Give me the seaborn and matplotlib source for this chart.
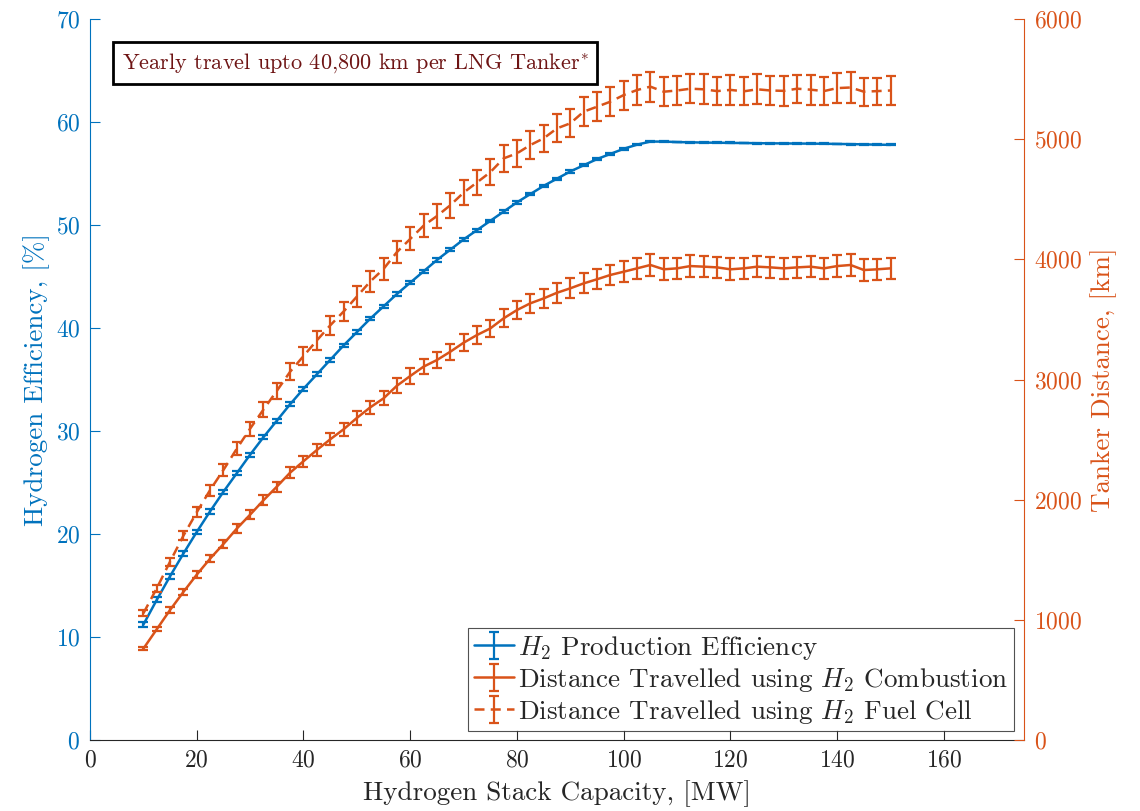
import numpy as np
import pandas as pd
import matplotlib
matplotlib.use('Agg')
import matplotlib.pyplot as plt
from matplotlib.container import ErrorbarContainer
import seaborn as sns

# Stack capacity [MW]
capacity = [10, 12.5, 15, 17.5, 20, 22.5, 25, 27.5, 30, 32.5, 35, 37.5, 40, 42.5, 45,
            47.5, 50, 52.5, 55, 57.5, 60, 62.5, 65, 67.5, 70, 72.5, 75, 77.5, 80, 82.5,
            85, 87.5, 90, 92.5, 95, 97.5, 100, 102.5, 105, 107.5, 110, 112.5, 115, 117.5,
            120, 122.5, 125, 127.5, 130, 132.5, 135, 137.5, 140, 142.5, 145, 147.5, 150]

# H2 production efficiency [%]
efficiency = [11.2, 13.6, 15.9, 18.1, 20.2, 22.2, 24.1, 25.9, 27.7, 29.4, 31.0, 32.6, 34.1,
              35.5, 36.9, 38.3, 39.6, 40.9, 42.1, 43.3, 44.4, 45.5, 46.6, 47.6, 48.6, 49.5,
              50.4, 51.3, 52.2, 53.0, 53.8, 54.5, 55.2, 55.8, 56.4, 56.9, 57.4, 57.8, 58.1,
              58.1, 58.05, 58.03, 58.0, 57.99, 57.97, 57.96, 57.94, 57.93, 57.92, 57.91,
              57.9, 57.89, 57.87, 57.85, 57.83, 57.8, 57.78]
efficiency_err = [0.25, 0.25, 0.24, 0.24, 0.23, 0.23, 0.22, 0.22, 0.21, 0.21, 0.2, 0.2, 0.19,
                  0.19, 0.18, 0.18, 0.17, 0.17, 0.16, 0.16, 0.15, 0.15, 0.15, 0.14, 0.14,
                  0.14, 0.13, 0.13, 0.13, 0.12, 0.12, 0.11, 0.11, 0.1, 0.1, 0.09, 0.08, 0.07,
                  0.05, 0.04, 0.04, 0.04, 0.04, 0.04, 0.04, 0.04, 0.04, 0.04, 0.04, 0.04,
                  0.04, 0.04, 0.04, 0.04, 0.04, 0.04, 0.04]

# Distance travelled using H2 combustion [km]
combustion = [760, 921, 1082, 1232, 1376, 1509, 1631, 1759, 1875, 1995, 2108, 2225, 2320,
              2413, 2502, 2585, 2680, 2768, 2843, 2948, 3029, 3107, 3162, 3231, 3306, 3370,
              3425, 3509, 3578, 3634, 3675, 3722, 3759, 3800, 3834, 3870, 3897, 3925, 3953,
              3917, 3925, 3944, 3939, 3933, 3917, 3925, 3939, 3933, 3925, 3933, 3939, 3925,
              3944, 3953, 3911, 3917, 3925]
combustion_err = [15, 18, 21, 24, 27, 30, 32, 35, 38, 40, 42, 45, 47, 49, 51, 53, 55, 57,
                  59, 61, 63, 65, 67, 68, 70, 72, 74, 76, 78, 80, 81, 82, 83, 84, 85, 86,
                  87, 88, 90, 90, 90, 88, 90, 88, 90, 86, 90, 88, 90, 88, 90, 86, 90, 92,
                  88, 86, 88]

# Distance travelled using H2 fuel cell [km]
fuel_cell = [1054, 1262, 1484, 1700, 1895, 2080, 2247, 2424, 2591, 2750, 2905, 3065, 3195,
             3325, 3450, 3565, 3690, 3815, 3920, 4060, 4170, 4280, 4360, 4450, 4555, 4640,
             4725, 4840, 4882, 4951, 5007, 5090, 5132, 5229, 5270, 5312, 5367, 5409, 5437,
             5395, 5405, 5420, 5415, 5400, 5410, 5398, 5415, 5405, 5402, 5420, 5412, 5400,
             5425, 5430, 5395, 5400, 5405]
fuel_cell_err = [25, 30, 34, 38, 42, 46, 50, 54, 58, 62, 66, 70, 73, 76, 79, 82, 85, 88,
                 90, 93, 95, 98, 100, 102, 104, 106, 108, 110, 112, 114, 115, 116, 117, 118,
                 119, 120, 121, 122, 124, 122, 124, 120, 124, 118, 124, 116, 124, 120, 124,
                 118, 124, 114, 124, 126, 118, 112, 118]

df = pd.DataFrame({'capacity': capacity, 'efficiency': efficiency,
                   'combustion': combustion, 'fuel_cell': fuel_cell})

blue = '#0072BD'
orange = '#D95319'

sns.set_theme(style='ticks')
plt.rcParams['font.family'] = ['serif']
plt.rcParams['font.serif'] = ['cmr10', 'DejaVu Serif']
plt.rcParams['mathtext.fontset'] = 'cm'
plt.rcParams['axes.formatter.use_mathtext'] = True
plt.rcParams['axes.unicode_minus'] = False

fig = plt.figure(figsize=(11.4, 8.11), dpi=100)
ax = fig.add_axes([90 / 1140, 71 / 811, 934 / 1140, 721 / 811])
ax2 = ax.twinx()

lw = 1.8
cap = 3.5
ebw = 1.6

# efficiency (left axis)
sns.lineplot(data=df, x='capacity', y='efficiency', ax=ax, color=blue, lw=lw)
line_eff = ax.lines[-1]
eb1 = ax.errorbar(capacity, efficiency, yerr=efficiency_err, fmt='none', ecolor=blue,
                  elinewidth=ebw, capsize=cap, capthick=ebw)

# distances (right axis)
sns.lineplot(data=df, x='capacity', y='combustion', ax=ax2, color=orange, lw=lw)
line_comb = ax2.lines[-1]
eb2 = ax2.errorbar(capacity, combustion, yerr=combustion_err, fmt='none', ecolor=orange,
                   elinewidth=ebw, capsize=cap, capthick=ebw)
sns.lineplot(data=df, x='capacity', y='fuel_cell', ax=ax2, color=orange, lw=lw)
line_fuel = ax2.lines[-1]
line_fuel.set_linestyle((0, (4, 2.5)))
eb3 = ax2.errorbar(capacity, fuel_cell, yerr=fuel_cell_err, fmt='none', ecolor=orange,
                   elinewidth=ebw, capsize=cap, capthick=ebw)

handles = [
    ErrorbarContainer((line_eff, eb1.lines[1], eb1.lines[2]), has_yerr=True),
    ErrorbarContainer((line_comb, eb2.lines[1], eb2.lines[2]), has_yerr=True),
    ErrorbarContainer((line_fuel, eb3.lines[1], eb3.lines[2]), has_yerr=True),
]
labels = ['$H_2$ Production Efficiency',
          'Distance Travelled using $H_2$ Combustion',
          'Distance Travelled using $H_2$ Fuel Cell']

ax.set_xlim(0, 175)
ax.set_ylim(0, 70)
ax2.set_ylim(0, 6000)
ax.set_xticks(range(0, 161, 20))
ax.set_yticks(range(0, 71, 10))
ax2.set_yticks(range(0, 6001, 1000))

fs = 17
lfs = 19.5
ax.set_xlabel('Hydrogen Stack Capacity, [MW]', fontsize=lfs, color='#262626', labelpad=6)
ax.set_ylabel('Hydrogen Efficiency, [%]', fontsize=lfs, color=blue, labelpad=4)
ax2.set_ylabel('Tanker Distance, [km]', fontsize=lfs, color=orange, labelpad=6)

for a in (ax, ax2):
    a.spines['top'].set_visible(False)
    a.grid(False)
ax.spines['left'].set_color(blue)
ax.spines['bottom'].set_color('#262626')
ax.spines['right'].set_visible(False)
ax2.spines['right'].set_color(orange)
ax2.spines['left'].set_visible(False)
ax2.spines['bottom'].set_visible(False)
for s in ('left', 'bottom'):
    ax.spines[s].set_linewidth(0.8)
ax2.spines['right'].set_linewidth(0.8)

ax.tick_params(axis='x', direction='in', length=7, width=0.8, colors='#262626',
               labelsize=fs, pad=7)
ax.tick_params(axis='y', direction='in', length=7, width=0.8, colors=blue,
               labelsize=fs, pad=7)
ax2.tick_params(axis='y', direction='in', length=7, width=0.8, colors=orange,
                labelsize=fs, pad=7)

leg = ax2.legend(handles, labels, loc='lower right', bbox_to_anchor=(0.989, 0.012),
                 borderaxespad=0, fontsize=lfs, frameon=True, fancybox=False,
                 edgecolor='#262626', handlelength=1.5, handletextpad=0.15,
                 labelspacing=0.15, borderpad=0.2)
leg.get_frame().set_linewidth(0.8)

ax.text(0.034, 0.939, 'Yearly travel upto 40,800 km per LNG Tanker$^{*}$',
        transform=ax.transAxes, fontsize=16, color='#6E1414', ha='left', va='center',
        bbox=dict(boxstyle='square,pad=0.4', fc='white', ec='black', lw=2), zorder=5)

fig.savefig('out.png', dpi=100)
